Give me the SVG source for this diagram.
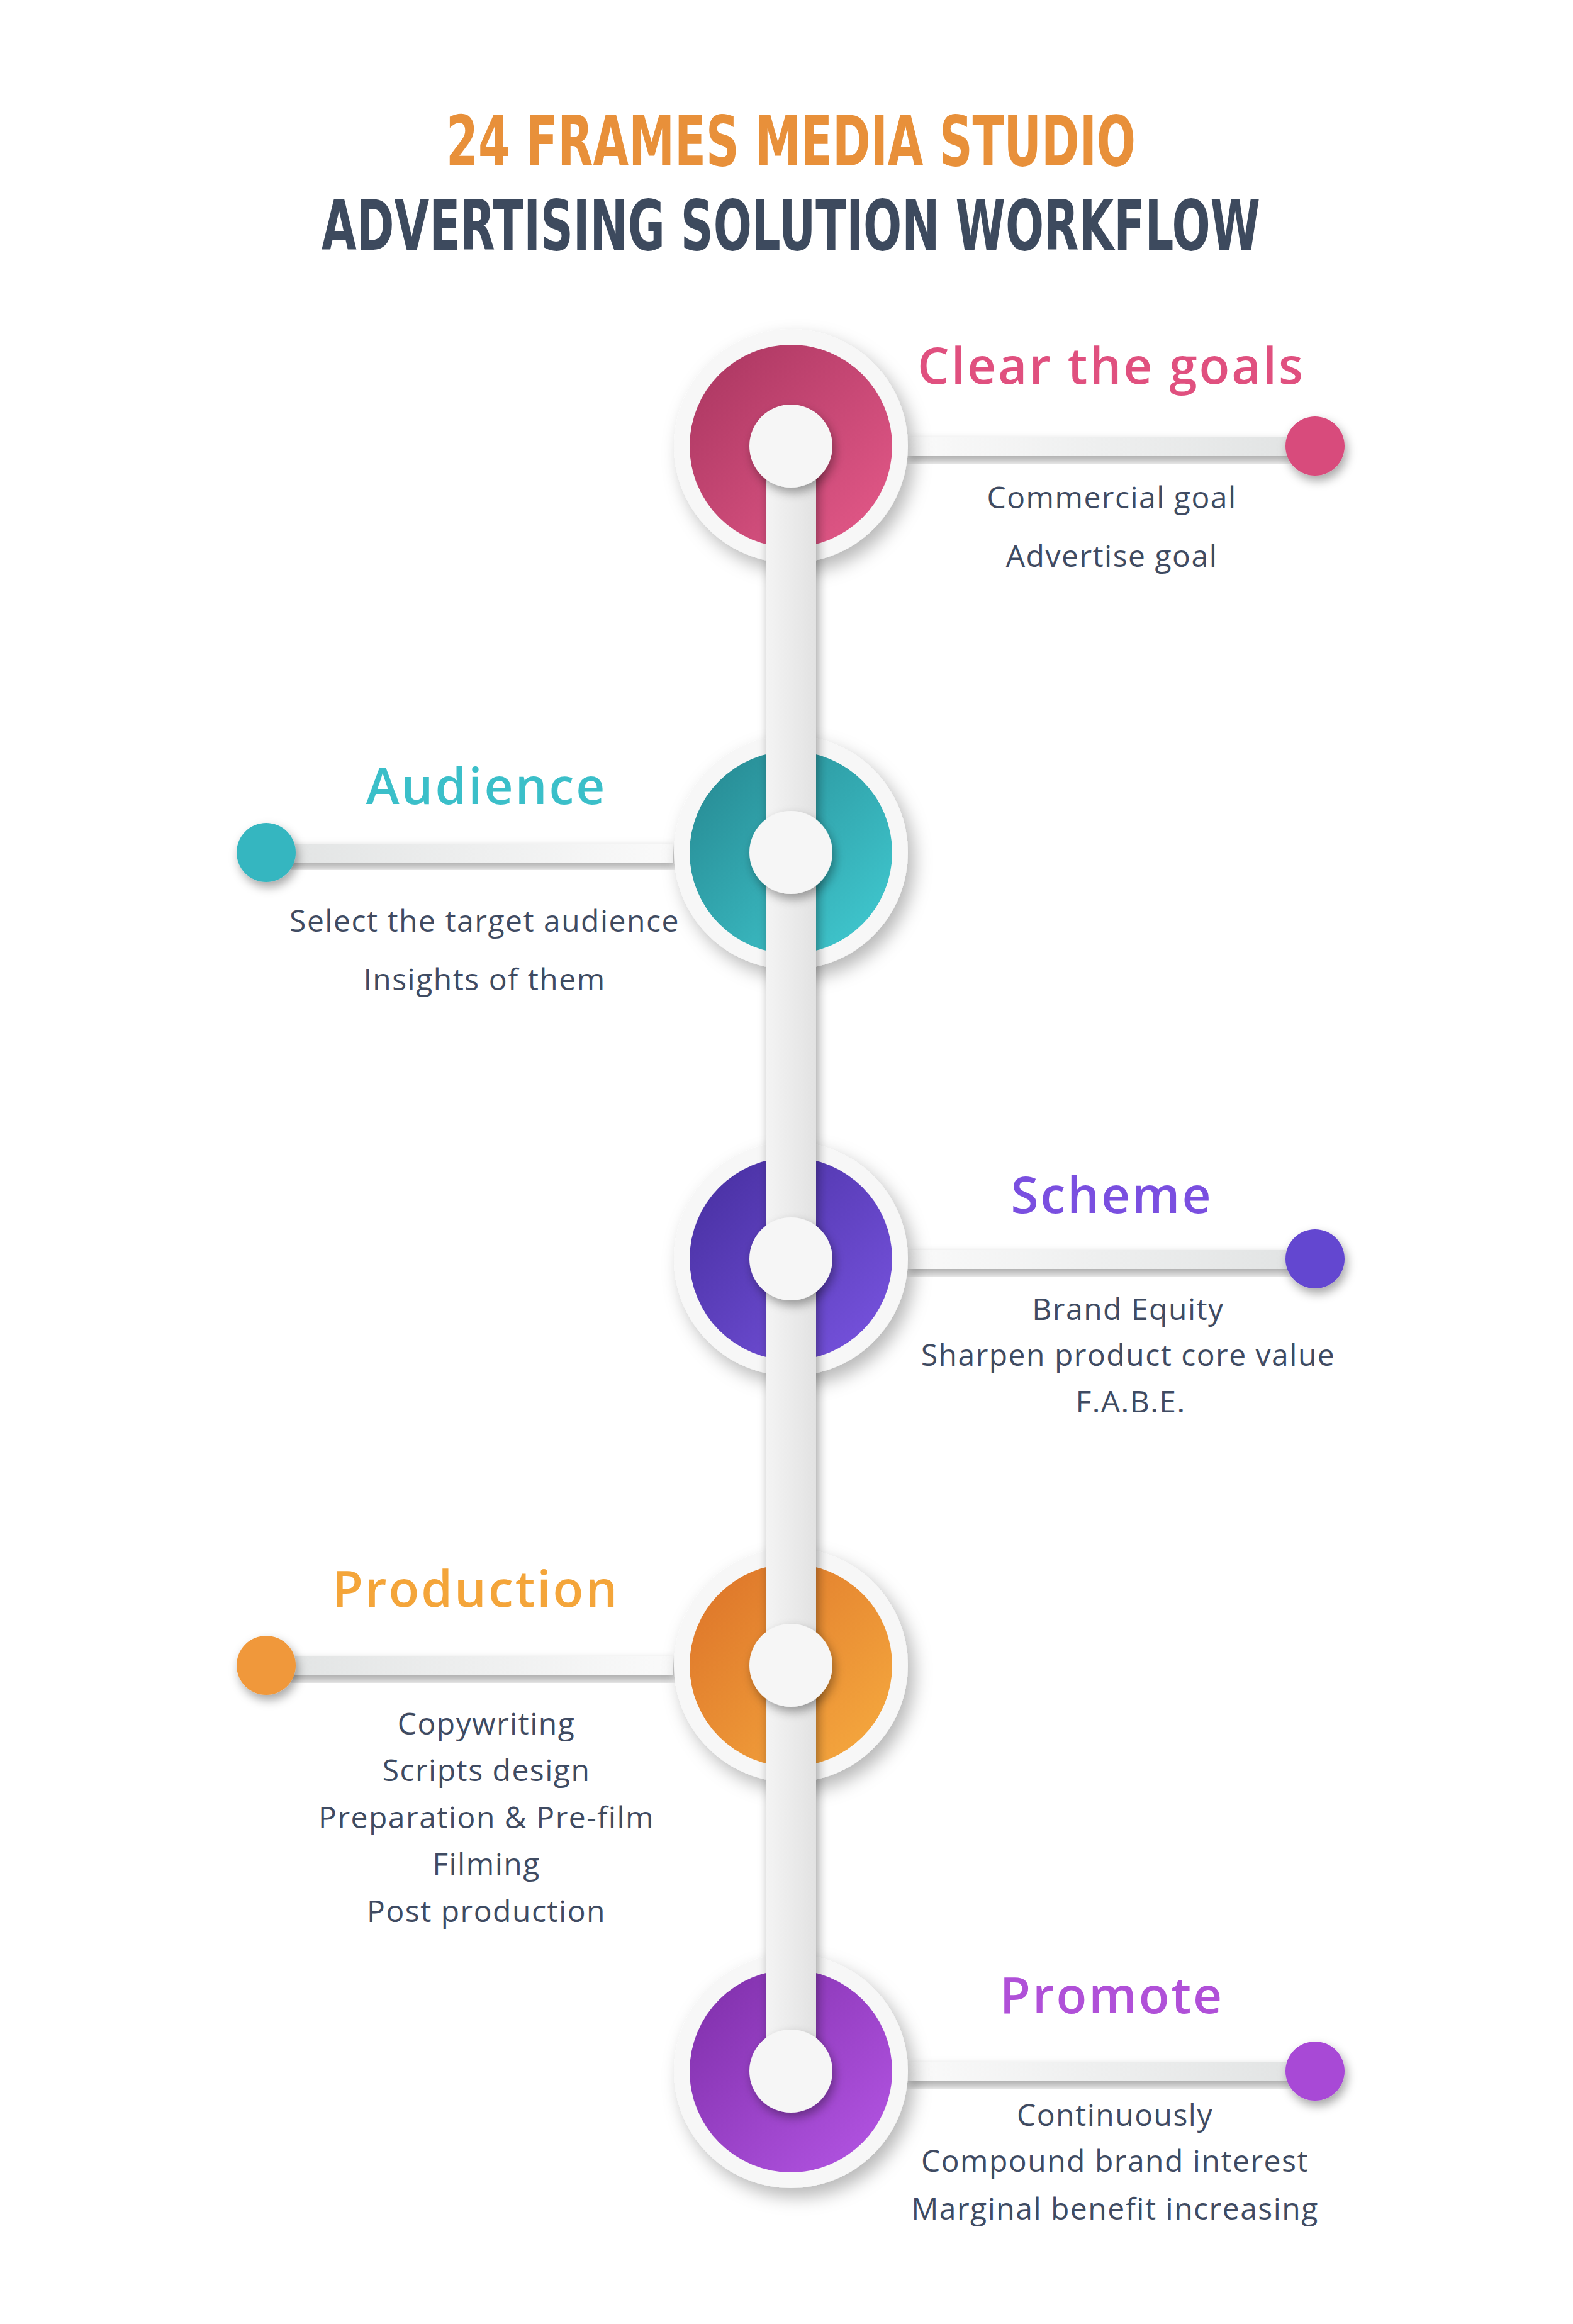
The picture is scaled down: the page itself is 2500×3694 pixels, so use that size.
<svg xmlns="http://www.w3.org/2000/svg" width="2500" height="3694" viewBox="0 0 2500 3694">
<style>
.hd{font-family:"Liberation Sans Narrow","DejaVu Sans Condensed",sans-serif;font-weight:bold;font-size:110px;text-anchor:middle}
.tt{font-family:"Open Sans","Noto Sans",sans-serif;font-weight:600;font-size:80px;letter-spacing:3px;text-anchor:middle}
.bd{font-family:"Open Sans","Noto Sans",sans-serif;font-weight:500;font-size:48px;letter-spacing:1.5px;fill:#3f4b62;text-anchor:middle}
.ring{fill:#f7f7f7;filter:url(#sh)}
.hub{fill:#f6f6f6;filter:url(#sh2)}
</style>
<defs>
<filter id="sh" x="-30%" y="-30%" width="160%" height="160%"><feDropShadow dx="10" dy="14" stdDeviation="14" flood-color="#000" flood-opacity="0.28"/></filter>
<filter id="sh2" x="-40%" y="-40%" width="180%" height="180%"><feDropShadow dx="4" dy="8" stdDeviation="8" flood-color="#000" flood-opacity="0.35"/></filter>
<linearGradient id="ln" x1="0" x2="1" y1="0" y2="0"><stop offset="0" stop-color="#fafafa"/><stop offset="1" stop-color="#e2e4e4"/></linearGradient>
<linearGradient id="lnL" x1="1" x2="0" y1="0" y2="0"><stop offset="0" stop-color="#fafafa"/><stop offset="1" stop-color="#e2e4e4"/></linearGradient>
<linearGradient id="bar" x1="0" x2="1"><stop offset="0" stop-color="#f4f4f4"/><stop offset="1" stop-color="#e2e2e2"/></linearGradient>
<linearGradient id="g1" x1="0" y1="0" x2="1" y2="1"><stop offset="0" stop-color="#a8355f"/><stop offset="1" stop-color="#e65a8a"/></linearGradient>
<linearGradient id="g2" x1="0" y1="0" x2="1" y2="1"><stop offset="0" stop-color="#25868f"/><stop offset="1" stop-color="#42cdd4"/></linearGradient>
<linearGradient id="g3" x1="0" y1="0" x2="1" y2="1"><stop offset="0" stop-color="#452e9e"/><stop offset="1" stop-color="#7a55e2"/></linearGradient>
<linearGradient id="g4" x1="0" y1="0" x2="1" y2="1"><stop offset="0" stop-color="#dc7228"/><stop offset="1" stop-color="#f7ac40"/></linearGradient>
<linearGradient id="g5" x1="0" y1="0" x2="1" y2="1"><stop offset="0" stop-color="#7d2ea8"/><stop offset="1" stop-color="#b656e6"/></linearGradient>
</defs>
<rect width="2500" height="3694" fill="#ffffff"/>
<g id="header">
<text class="hd" x="1257" y="263" fill="#e8903a" textLength="1096" lengthAdjust="spacingAndGlyphs">24 FRAMES MEDIA STUDIO</text>
<text class="hd" x="1257" y="397" fill="#3d4a5e" textLength="1492" lengthAdjust="spacingAndGlyphs">ADVERTISING SOLUTION WORKFLOW</text>
</g>
<g id="node-goals">
<rect x="1440" y="695" width="610" height="30" fill="url(#ln)" filter="url(#sh2)"/>
<circle class="ring" cx="1257" cy="709" r="186"/>
<circle cx="1257" cy="709" r="161" fill="url(#g1)"/>
<circle cx="2090" cy="709" r="47" fill="#d84b7c" filter="url(#sh2)"/>
<text class="tt" x="1766" y="610" fill="#e0507f">Clear the goals</text>
<text class="bd" x="1767" y="808">Commercial goal</text>
<text class="bd" x="1767" y="901">Advertise goal</text>
</g>
<g id="node-audience">
<rect x="450" y="1341" width="620" height="30" fill="url(#lnL)" filter="url(#sh2)"/>
<circle class="ring" cx="1257" cy="1355" r="186"/>
<circle cx="1257" cy="1355" r="161" fill="url(#g2)"/>
<circle cx="423" cy="1355" r="47" fill="#35b6c0" filter="url(#sh2)"/>
<text class="tt" x="773" y="1278" fill="#3bbfc9">Audience</text>
<text class="bd" x="770" y="1481">Select the target audience</text>
<text class="bd" x="770" y="1574">Insights of them</text>
</g>
<g id="node-scheme">
<rect x="1440" y="1987" width="610" height="30" fill="url(#ln)" filter="url(#sh2)"/>
<circle class="ring" cx="1257" cy="2001" r="186"/>
<circle cx="1257" cy="2001" r="161" fill="url(#g3)"/>
<circle cx="2090" cy="2001" r="47" fill="#6447d0" filter="url(#sh2)"/>
<text class="tt" x="1767" y="1928" fill="#7a4fe0">Scheme</text>
<text class="bd" x="1793" y="2098">Brand Equity</text>
<text class="bd" x="1793" y="2171">Sharpen product core value</text>
<text class="bd" x="1797" y="2245">F.A.B.E.</text>
</g>
<g id="node-production">
<rect x="450" y="2633" width="620" height="30" fill="url(#lnL)" filter="url(#sh2)"/>
<circle class="ring" cx="1257" cy="2647" r="186"/>
<circle cx="1257" cy="2647" r="161" fill="url(#g4)"/>
<circle cx="423" cy="2647" r="47" fill="#f0983a" filter="url(#sh2)"/>
<text class="tt" x="756" y="2554" fill="#f4a53a">Production</text>
<text class="bd" x="773" y="2757">Copywriting</text>
<text class="bd" x="773" y="2831">Scripts design</text>
<text class="bd" x="773" y="2906">Preparation &amp; Pre-film</text>
<text class="bd" x="773" y="2980">Filming</text>
<text class="bd" x="773" y="3055">Post production</text>
</g>
<g id="node-promote">
<rect x="1440" y="3278" width="610" height="30" fill="url(#ln)" filter="url(#sh2)"/>
<circle class="ring" cx="1257" cy="3292" r="186"/>
<circle cx="1257" cy="3292" r="161" fill="url(#g5)"/>
<circle cx="2090" cy="3292" r="47" fill="#a848d6" filter="url(#sh2)"/>
<text class="tt" x="1767" y="3200" fill="#b050d8">Promote</text>
<text class="bd" x="1772" y="3379">Continuously</text>
<text class="bd" x="1772" y="3452">Compound brand interest</text>
<text class="bd" x="1772" y="3528">Marginal benefit increasing</text>
</g>
<g id="connectors">
<rect x="1217" y="709" width="80" height="2583" fill="url(#bar)" filter="url(#sh2)"/>
</g>
<g id="hubs">
<circle class="hub" cx="1257" cy="709" r="66"/>
<circle class="hub" cx="1257" cy="1355" r="66"/>
<circle class="hub" cx="1257" cy="2001" r="66"/>
<circle class="hub" cx="1257" cy="2647" r="66"/>
<circle class="hub" cx="1257" cy="3292" r="66"/>
</g>
</svg>
